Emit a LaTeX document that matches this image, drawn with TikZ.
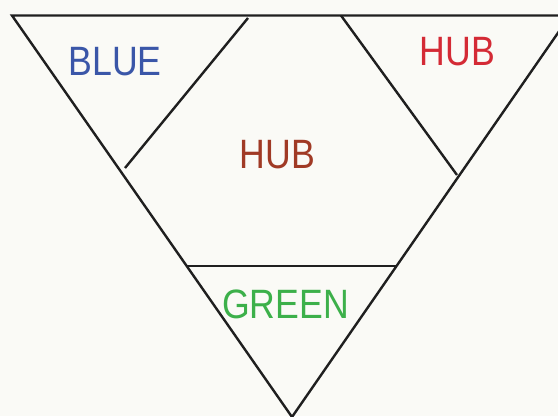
\documentclass[tikz,border=0pt]{standalone}
\usepackage{fontspec}
\setsansfont{Liberation Sans}[FakeStretch=0.87]
\usetikzlibrary{positioning}
\definecolor{paper}{HTML}{FAFAF6}
\definecolor{blueL}{HTML}{3A56A8}
\definecolor{redL}{HTML}{D42A35}
\definecolor{brownL}{HTML}{A03A25}
\definecolor{greenL}{HTML}{3CB04A}

\begin{document}
\begin{tikzpicture}[x=1pt,y=-1pt,
 edge/.style={draw=black!88,line width=2.4pt},
 lbl/.style={font=\sffamily\fontsize{41}{45}\selectfont,inner sep=0pt}]
 \fill[paper] (0,0) rectangle (558,416);
 \clip (0,0) rectangle (558,416);
 % outer triangle
 \coordinate (tl) at (12,15.5);
 \coordinate (tr) at (570,15.5);
 \coordinate (ap) at (292,417);
 \draw[edge,line join=miter] (tr) -- (tl) -- (ap) -- cycle;
 % inner cuts
 \coordinate (bl1) at (248,18);
 \coordinate (bl2) at (125,168);
 \coordinate (hb1) at (341,15.5);
 \coordinate (hb2) at (457,175);
 \coordinate (gr1) at (187,266);
 \coordinate (gr2) at (396,266);
 \draw[edge] (bl1) -- (bl2);
 \draw[edge] (hb1) -- (hb2);
 \draw[edge] (gr1) -- (gr2);
 % labels
 \node[lbl,text=blueL] (blue) at (115,62) {BLUE};
 \node[lbl,text=redL] (hubr) at (457.5,51.5) {HUB};
 \node[lbl,text=brownL] (hubc) at (277.5,154.5) {HUB};
 \node[lbl,text=greenL] (green) at (285.5,304.5) {GREEN};
\end{tikzpicture}
\end{document}
